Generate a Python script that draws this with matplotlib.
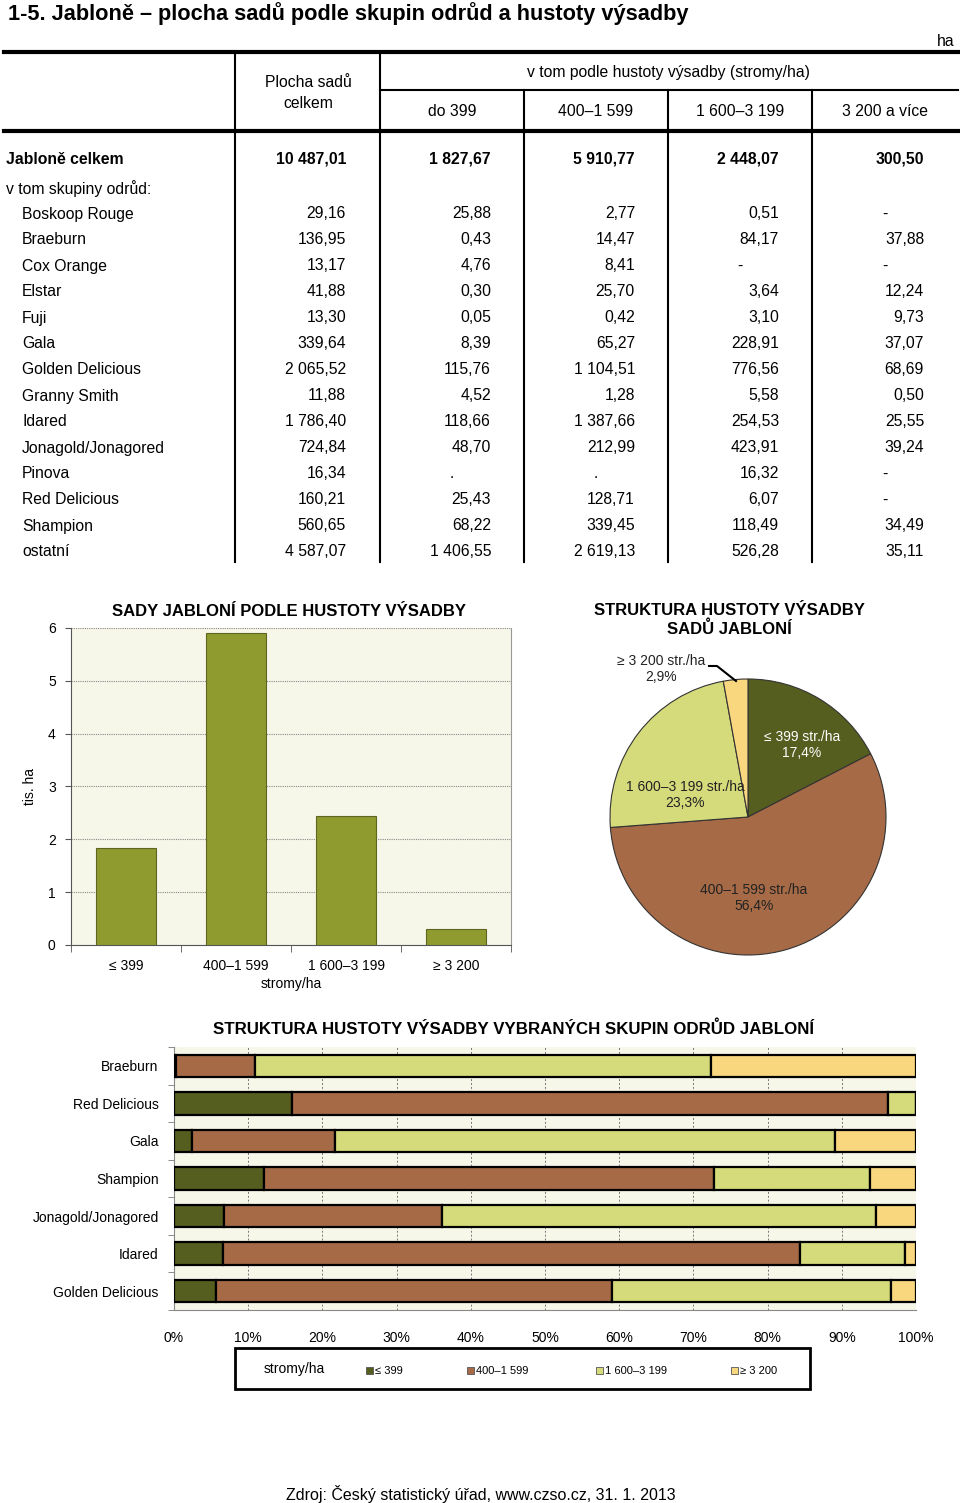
import matplotlib
matplotlib.use('Agg')
import matplotlib.pyplot as plt
from matplotlib.patches import Rectangle

plt.rcParams['font.family'] = ['Liberation Sans', 'DejaVu Sans']

W, H = 960, 1503

# table data (as printed)
varieties = ['Boskoop Rouge', 'Braeburn', 'Cox Orange', 'Elstar', 'Fuji', 'Gala', 'Golden Delicious',
             'Granny Smith', 'Idared', 'Jonagold/Jonagored', 'Pinova', 'Red Delicious', 'Shampion', 'ostatní']
area_total = ['29,16', '136,95', '13,17', '41,88', '13,30', '339,64', '2 065,52', '11,88', '1 786,40',
              '724,84', '16,34', '160,21', '560,65', '4 587,07']
area_399 = ['25,88', '0,43', '4,76', '0,30', '0,05', '8,39', '115,76', '4,52', '118,66', '48,70', '.',
            '25,43', '68,22', '1 406,55']
area_1599 = ['2,77', '14,47', '8,41', '25,70', '0,42', '65,27', '1 104,51', '1,28', '1 387,66', '212,99', '.',
             '128,71', '339,45', '2 619,13']
area_3199 = ['0,51', '84,17', '-', '3,64', '3,10', '228,91', '776,56', '5,58', '254,53', '423,91', '16,32',
             '6,07', '118,49', '526,28']
area_3200 = ['-', '37,88', '-', '12,24', '9,73', '37,07', '68,69', '0,50', '25,55', '39,24', '-', '-',
             '34,49', '35,11']
apple_total = ['10 487,01', '1 827,67', '5 910,77', '2 448,07', '300,50']

density_headers = ['do 399', '400–1 599', '1 600–3 199', '3 200 a více']
bar_categories = ['≤ 399', '400–1 599', '1 600–3 199', '≥ 3 200']
pie_labels = ['≤ 399 str./ha', '400–1 599 str./ha', '1 600–3 199 str./ha', '≥ 3 200 str./ha']
stack_varieties = ['Braeburn', 'Red Delicious', 'Gala', 'Shampion', 'Jonagold/Jonagored', 'Idared',
                   'Golden Delicious']
legend_labels = ['≤ 399', '400–1 599', '1 600–3 199', '≥ 3 200']

DARK = '#555E1E'
BROWN = '#A66B46'
LIGHT = '#D5DA7B'
YELLOW = '#F9D77E'
OLIVE = '#8F9A2F'
CREAM = '#F7F7E9'
dens_colors = [DARK, BROWN, LIGHT, YELLOW]


def num(s):
    if s in ('-', '.'):
        return 0.0
    return float(s.replace(' ', '').replace(',', '.'))


def px_rect(x0, y0, x1, y1):
    return [x0 / W, 1 - y1 / H, (x1 - x0) / W, (y1 - y0) / H]


fig = plt.figure(figsize=(W / 100, H / 100), dpi=100)
canvas = fig.add_axes([0, 0, 1, 1])
canvas.set_xlim(0, W)
canvas.set_ylim(H, 0)
canvas.axis('off')

# ---- table ----
canvas.text(8, 14, '1-5. Jabloně – plocha sadů podle skupin odrůd a hustoty výsadby',
            fontsize=15.7, fontweight='bold', ha='left', va='center')
canvas.text(955, 41, 'ha', fontsize=11.3, ha='right', va='center')
canvas.plot([4, 958], [52, 52], color='black', lw=3)
canvas.plot([4, 958], [131, 131], color='black', lw=3)
canvas.plot([380, 958], [90, 90], color='black', lw=1.5)
for x in [235, 380]:
    canvas.plot([x, x], [52, 562], color='black', lw=1.5)
for x in [524, 668, 812]:
    canvas.plot([x, x], [90, 562], color='black', lw=1.5)

FS = 11.3
canvas.text(308, 93, 'Plocha sadů\ncelkem', fontsize=FS, ha='center', va='center', linespacing=1.5)
canvas.text(668, 72, 'v tom podle hustoty výsadby (stromy/ha)', fontsize=FS, ha='center', va='center')
col_centers = [308, 452, 596, 740, 885]
col_rights = [346, 491, 635, 779, 924]
for i, h in enumerate(density_headers):
    canvas.text(col_centers[i + 1], 112, h, fontsize=FS, ha='center', va='center')

canvas.text(6, 159, 'Jabloně celkem', fontsize=FS, fontweight='bold', ha='left', va='center')
for j, v in enumerate(apple_total):
    canvas.text(col_rights[j], 159, v, fontsize=FS, fontweight='bold', ha='right', va='center')
canvas.text(6, 189, 'v tom skupiny odrůd:', fontsize=FS, ha='left', va='center')

columns = [area_total, area_399, area_1599, area_3199, area_3200]
for i, name in enumerate(varieties):
    y = 214 + i * 26
    canvas.text(22, y, name, fontsize=FS, ha='left', va='center')
    for j, col in enumerate(columns):
        v = col[i]
        if v in ('-', '.'):
            canvas.text(col_centers[j], y, v, fontsize=FS, ha='center', va='center')
        else:
            canvas.text(col_rights[j], y, v, fontsize=FS, ha='right', va='center')

# ---- bar chart ----
density_values = [num(t) / 1000 for t in apple_total[1:]]
ax1 = fig.add_axes(px_rect(71, 628, 511, 945))
ax1.set_facecolor(CREAM)
ax1.bar(range(4), density_values, width=0.55, color=OLIVE, edgecolor='#5E6520', linewidth=0.8, zorder=3)
ax1.set_xlim(-0.5, 3.5)
ax1.set_ylim(0, 6)
ax1.set_yticks(range(7))
ax1.yaxis.grid(True, linestyle=(0, (1, 1)), color='#888888', linewidth=0.8, zorder=0)
ax1.set_xticks(range(4))
ax1.set_xticklabels(bar_categories, fontsize=10)
ax1.set_xticks([-0.5, 0.5, 1.5, 2.5, 3.5], minor=True)
ax1.tick_params(axis='x', which='major', length=0, pad=10)
ax1.tick_params(axis='x', which='minor', length=5, color='#555555', direction='out')
ax1.tick_params(axis='y', length=4, color='#555555', labelsize=10, pad=7)
ax1.set_xlabel('stromy/ha', fontsize=10, labelpad=3)
ax1.set_ylabel('tis. ha', fontsize=10, labelpad=8)
for s in ['left', 'bottom']:
    ax1.spines[s].set_color('#555555')
ax1.spines['right'].set_color('#999999')
ax1.spines['top'].set_visible(False)
canvas.text(289, 611, 'SADY JABLONÍ PODLE HUSTOTY VÝSADBY', fontsize=12, fontweight='bold',
            ha='center', va='center')

# ---- pie chart ----
cx, cy, r = 748, 817, 138
ax2 = fig.add_axes(px_rect(cx - 140, cy - 140, cx + 140, cy + 140))
ax2.pie(density_values, colors=dens_colors, startangle=90, counterclock=False,
        wedgeprops=dict(edgecolor='#333333', linewidth=0.8))
lim = 140 / r
ax2.set_xlim(-lim, lim)
ax2.set_ylim(-lim, lim)
ax2.set_aspect('equal')
total = sum(density_values)
pct = ['%s%%' % ('%.1f' % (100 * v / total)).replace('.', ',') for v in density_values]
label_pos = [(802, 745), (754, 898), (685, 795), (661, 669)]
label_col = ['white', '#222222', '#222222', '#222222']
for k in range(4):
    px, py = label_pos[k]
    ax2.text((px - cx) / r, -(py - cy) / r, pie_labels[k] + '\n' + pct[k], fontsize=10,
             ha='center', va='center', color=label_col[k], clip_on=False)
lx = [(709 - cx) / r, (717 - cx) / r, (736 - cx) / r]
ly = [-(666 - cy) / r, -(666 - cy) / r, -(681 - cy) / r]
ax2.plot(lx, ly, color='black', lw=1.5, clip_on=False)
canvas.text(729, 620, 'STRUKTURA HUSTOTY VÝSADBY\nSADŮ JABLONÍ', fontsize=12, fontweight='bold',
            ha='center', va='center', linespacing=1.25)

# ---- stacked bar chart ----
ax3 = fig.add_axes(px_rect(174, 1047, 916, 1310))
ax3.set_facecolor(CREAM)
for i, name in enumerate(stack_varieties):
    idx = varieties.index(name)
    parts = [num(area_399[idx]), num(area_1599[idx]), num(area_3199[idx]), num(area_3200[idx])]
    s = sum(parts)
    left = 0
    for k, p in enumerate(parts):
        share = p / s
        ax3.barh(i, share, left=left, height=0.6, color=dens_colors[k], edgecolor='black',
                 linewidth=1.6, zorder=3)
        left += share
ax3.set_xlim(0, 1)
ax3.set_ylim(6.5, -0.5)
ax3.set_xticks([k / 10 for k in range(11)])
ax3.set_xticklabels(['%d%%' % (k * 10) for k in range(11)], fontsize=10)
ax3.tick_params(axis='x', length=0, pad=15)
ax3.xaxis.grid(True, linestyle=(0, (2, 2)), color='#777777', linewidth=0.7, zorder=0)
ax3.set_yticks(range(len(stack_varieties)))
ax3.set_yticklabels(stack_varieties, fontsize=10)
ax3.set_yticks([k - 0.5 for k in range(8)], minor=True)
ax3.tick_params(axis='y', which='major', length=0, pad=11)
ax3.tick_params(axis='y', which='minor', length=4, color='#777777')
for sp in ['left', 'bottom']:
    ax3.spines[sp].set_color('#888888')
ax3.spines['top'].set_visible(False)
ax3.spines['right'].set_visible(False)
canvas.text(514, 1029, 'STRUKTURA HUSTOTY VÝSADBY VYBRANÝCH SKUPIN ODRŮD JABLONÍ', fontsize=12.2,
            fontweight='bold', ha='center', va='center')

# legend box
canvas.add_patch(Rectangle((235, 1348), 575, 41, fill=False, edgecolor='black', lw=2))
canvas.text(264, 1369, 'stromy/ha', fontsize=10, ha='left', va='center')
leg_x = [366, 467, 596, 731]
for k in range(4):
    canvas.add_patch(Rectangle((leg_x[k], 1367), 7, 7, facecolor=dens_colors[k], edgecolor='#555555', lw=0.6))
    canvas.text(leg_x[k] + 9, 1371, legend_labels[k], fontsize=8, ha='left', va='center')

canvas.text(481, 1494, 'Zdroj: Český statistický úřad, www.czso.cz, 31. 1. 2013', fontsize=11.5,
            ha='center', va='center')

fig.savefig('out.png', dpi=100)
